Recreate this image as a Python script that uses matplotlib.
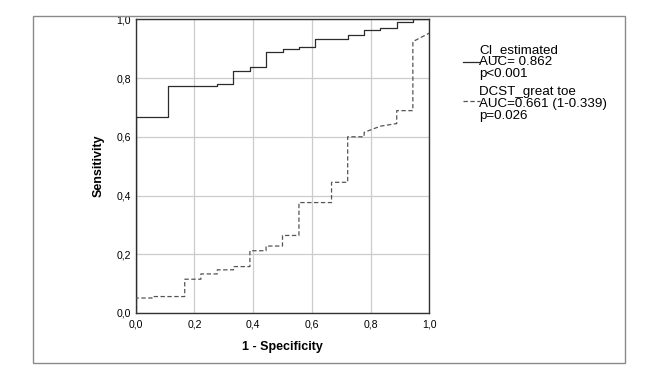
import matplotlib
matplotlib.use("Agg")
import matplotlib.pyplot as plt
from matplotlib.lines import Line2D
from matplotlib.patches import Rectangle

plt.rcParams["font.family"] = ["Liberation Sans", "DejaVu Sans"]

# ROC curve vertices (1 - specificity, sensitivity)
ci_fpr = [0.0, 0.0, 0.111, 0.111, 0.278, 0.278, 0.333, 0.333, 0.389, 0.389,
          0.444, 0.444, 0.5, 0.5, 0.556, 0.556, 0.611, 0.611, 0.722, 0.722,
          0.778, 0.778, 0.833, 0.833, 0.889, 0.889, 0.944, 0.944, 1.0]
ci_tpr = [0.0, 0.667, 0.667, 0.774, 0.774, 0.781, 0.781, 0.825, 0.825, 0.837,
          0.837, 0.888, 0.888, 0.899, 0.899, 0.907, 0.907, 0.932, 0.932, 0.945,
          0.945, 0.963, 0.963, 0.969, 0.969, 0.992, 0.992, 1.0, 1.0]

dcst_fpr = [0.0, 0.0, 0.056, 0.056, 0.167, 0.167, 0.222, 0.222, 0.278, 0.278,
            0.333, 0.333, 0.389, 0.389, 0.444, 0.444, 0.5, 0.5, 0.556, 0.556,
            0.667, 0.667, 0.722, 0.722, 0.778, 0.778, 0.833, 0.889, 0.889,
            0.944, 0.944, 1.0]
dcst_tpr = [0.0, 0.051, 0.051, 0.056, 0.056, 0.115, 0.115, 0.133, 0.133, 0.147,
            0.147, 0.158, 0.158, 0.212, 0.212, 0.228, 0.228, 0.264, 0.264, 0.376,
            0.376, 0.445, 0.445, 0.600, 0.600, 0.615, 0.636, 0.645, 0.689,
            0.689, 0.924, 0.953]

ticks = [0.0, 0.2, 0.4, 0.6, 0.8, 1.0]
tick_labels = ["0,0", "0,2", "0,4", "0,6", "0,8", "1,0"]

legend_ci = ["CI_estimated", "AUC= 0.862", "p<0.001"]
legend_dcst = ["DCST_great toe", "AUC=0.661 (1-0.339)", "p=0.026"]

W, H = 662, 382
fig = plt.figure(figsize=(W / 100, H / 100), dpi=100)

# outer frame
fig.patches.append(Rectangle((33 / W, 1 - 363 / H), (625 - 33) / W, (363 - 16) / H,
                             transform=fig.transFigure, fill=False,
                             edgecolor="#8a8a8a", linewidth=1.0))

ax = fig.add_axes([135.7 / W, 1 - 313 / H, (429.3 - 135.7) / W, (313 - 19.3) / H])
ax.plot(ci_fpr, ci_tpr, color="#2b2b2b", linewidth=0.9, zorder=3)
ax.plot(dcst_fpr, dcst_tpr, color="#555555", linewidth=0.9,
        linestyle=(0, (3.5, 2)), zorder=3)

ax.set_xlim(0, 1)
ax.set_ylim(0, 1)
ax.set_xticks(ticks, tick_labels, fontsize=7.6)
ax.set_yticks(ticks, tick_labels, fontsize=7.6)
ax.tick_params(axis="both", length=0)
ax.tick_params(axis="y", pad=3.4)
ax.tick_params(axis="x", pad=4.6)
ax.grid(True, color="#cccccc", linewidth=0.9, zorder=0)
for spine in ax.spines.values():
    spine.set_color("#333333")
    spine.set_linewidth(1.0)

ax.set_xlabel("1 - Specificity", fontsize=9, fontweight="bold")
ax.set_ylabel("Sensitivity", fontsize=9, fontweight="bold")
ax.xaxis.set_label_coords(0.5, -0.115)
ax.xaxis.label.set_va("center")
ax.yaxis.set_label_coords(-0.125, 0.5)
ax.yaxis.label.set_va("center")

# legend drawn by hand to match the layout
text_x = 479 / W
for label, y_px in zip(legend_ci, [50, 62, 73.5]):
    fig.text(text_x, 1 - y_px / H, label, fontsize=9.6, va="center", ha="left")
for label, y_px in zip(legend_dcst, [92.5, 104, 115.5]):
    fig.text(text_x, 1 - y_px / H, label, fontsize=9.6, va="center", ha="left")
fig.lines.append(Line2D([462.7 / W, 480 / W], [1 - 62 / H, 1 - 62 / H],
                        transform=fig.transFigure, color="#2b2b2b", linewidth=0.9))
fig.lines.append(Line2D([462.7 / W, 480 / W], [1 - 101 / H, 1 - 101 / H],
                        transform=fig.transFigure, color="#555555", linewidth=0.9,
                        linestyle=(0, (3.5, 2))))

fig.savefig("out.png", dpi=100)
